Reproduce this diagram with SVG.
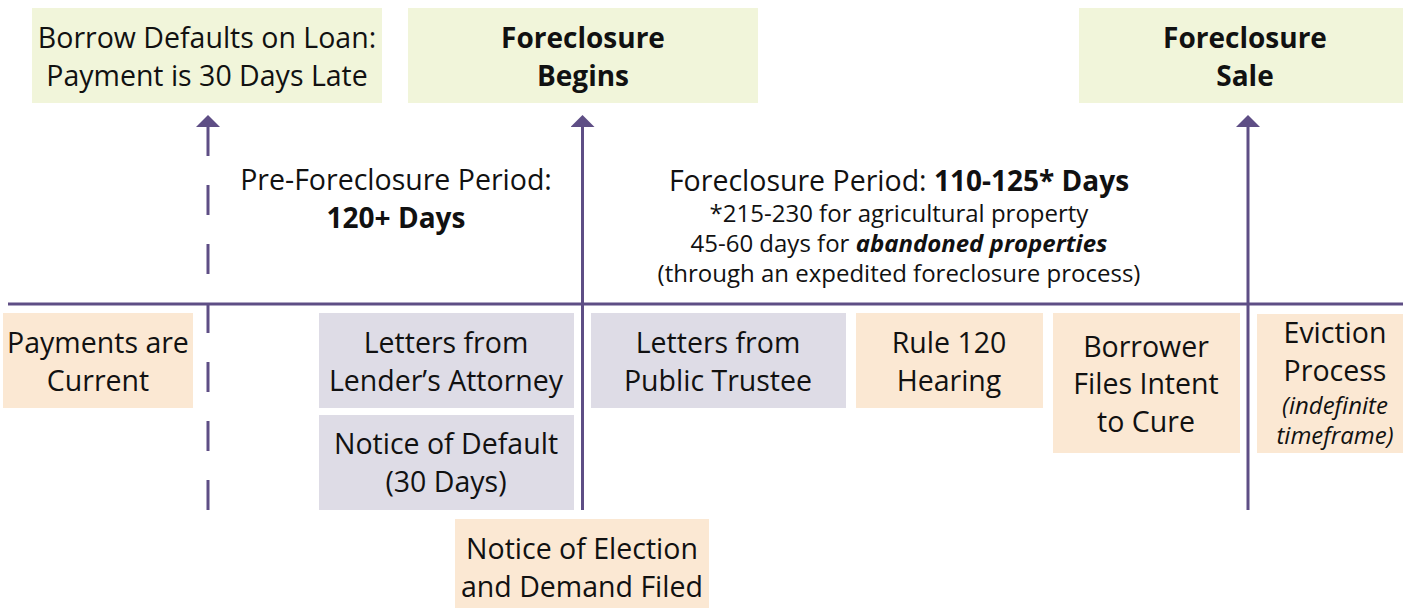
<svg xmlns="http://www.w3.org/2000/svg" width="1403" height="608" viewBox="0 0 1403 608">
<style>
.t{font-family:"Open Sans","Noto Sans",sans-serif;font-size:28.5px;fill:#111;text-anchor:middle}
.b{font-weight:bold;font-size:28px}
.s{font-size:24px}
.i{font-style:italic;font-size:24px}
.green{fill:#f1f5da}
.peach{fill:#fbe8d3}
.grey{fill:#dedce6}
.ln{stroke:#5e4e85;stroke-width:3;fill:none}
</style>
<defs>
<marker id="ah" viewBox="0 0 12 24" refX="0" refY="12" markerWidth="12" markerHeight="24" markerUnits="userSpaceOnUse" orient="auto">
<path d="M0,0 L12,12 L0,24 z" fill="#5e4e85"/>
</marker>
</defs>
<rect width="1403" height="608" fill="#fff"/>

<g id="connectors">
<line class="ln" x1="8" y1="304" x2="1403" y2="304"/>
<line class="ln" x1="208" y1="510" x2="208" y2="127" stroke-dasharray="30 29" marker-end="url(#ah)"/>
<line class="ln" x1="582.5" y1="510" x2="582.5" y2="127" marker-end="url(#ah)"/>
<line class="ln" x1="1248" y1="510" x2="1248" y2="127" marker-end="url(#ah)"/>
</g>

<g id="borrower-defaults">
<rect class="green" x="32" y="8" width="350" height="95"/>
<text class="t" x="207" y="48">Borrow Defaults on Loan:</text>
<text class="t" x="207" y="86">Payment is 30 Days Late</text>
</g>

<g id="foreclosure-begins">
<rect class="green" x="408" y="8" width="350" height="95"/>
<text class="t b" x="583" y="48">Foreclosure</text>
<text class="t b" x="583" y="86">Begins</text>
</g>

<g id="foreclosure-sale">
<rect class="green" x="1079" y="8" width="324" height="95"/>
<text class="t b" x="1245" y="48">Foreclosure</text>
<text class="t b" x="1245" y="86">Sale</text>
</g>

<g id="pre-foreclosure-period">
<text class="t" x="396" y="190">Pre-Foreclosure Period:</text>
<text class="t b" x="396" y="228">120+ Days</text>
</g>

<g id="foreclosure-period">
<text class="t" x="899" y="191">Foreclosure Period: <tspan class="b">110-125* Days</tspan></text>
<text class="t s" x="899" y="222">*215-230 for agricultural property</text>
<text class="t s" x="899" y="252">45-60 days for <tspan font-weight="bold" font-style="italic">abandoned properties</tspan></text>
<text class="t s" x="899" y="282">(through an expedited foreclosure process)</text>
</g>

<g id="payments-current">
<rect class="peach" x="3" y="313" width="190" height="95"/>
<text class="t" x="98" y="353">Payments are</text>
<text class="t" x="98" y="391">Current</text>
</g>

<g id="letters-lender">
<rect class="grey" x="319" y="313" width="255" height="95"/>
<text class="t" x="446" y="353">Letters from</text>
<text class="t" x="446" y="391">Lender’s Attorney</text>
</g>

<g id="notice-default">
<rect class="grey" x="319" y="415" width="255" height="95"/>
<text class="t" x="446" y="454">Notice of Default</text>
<text class="t" x="446" y="492">(30 Days)</text>
</g>

<g id="notice-election">
<rect class="peach" x="455" y="519" width="254" height="89"/>
<text class="t" x="582" y="559">Notice of Election</text>
<text class="t" x="582" y="597">and Demand Filed</text>
</g>

<g id="letters-trustee">
<rect class="grey" x="591" y="313" width="255" height="95"/>
<text class="t" x="718" y="353">Letters from</text>
<text class="t" x="718" y="391">Public Trustee</text>
</g>

<g id="rule-120">
<rect class="peach" x="856" y="313" width="187" height="95"/>
<text class="t" x="949" y="353">Rule 120</text>
<text class="t" x="949" y="391">Hearing</text>
</g>

<g id="intent-to-cure">
<rect class="peach" x="1053" y="313" width="187" height="140"/>
<text class="t" x="1146" y="357">Borrower</text>
<text class="t" x="1146" y="394">Files Intent</text>
<text class="t" x="1146" y="432">to Cure</text>
</g>

<g id="eviction">
<rect class="peach" x="1257" y="314" width="146" height="139"/>
<text class="t" x="1335" y="343">Eviction</text>
<text class="t" x="1335" y="381">Process</text>
<text class="t i" x="1335" y="414">(indefinite</text>
<text class="t i" x="1335" y="444">timeframe)</text>
</g>
</svg>
